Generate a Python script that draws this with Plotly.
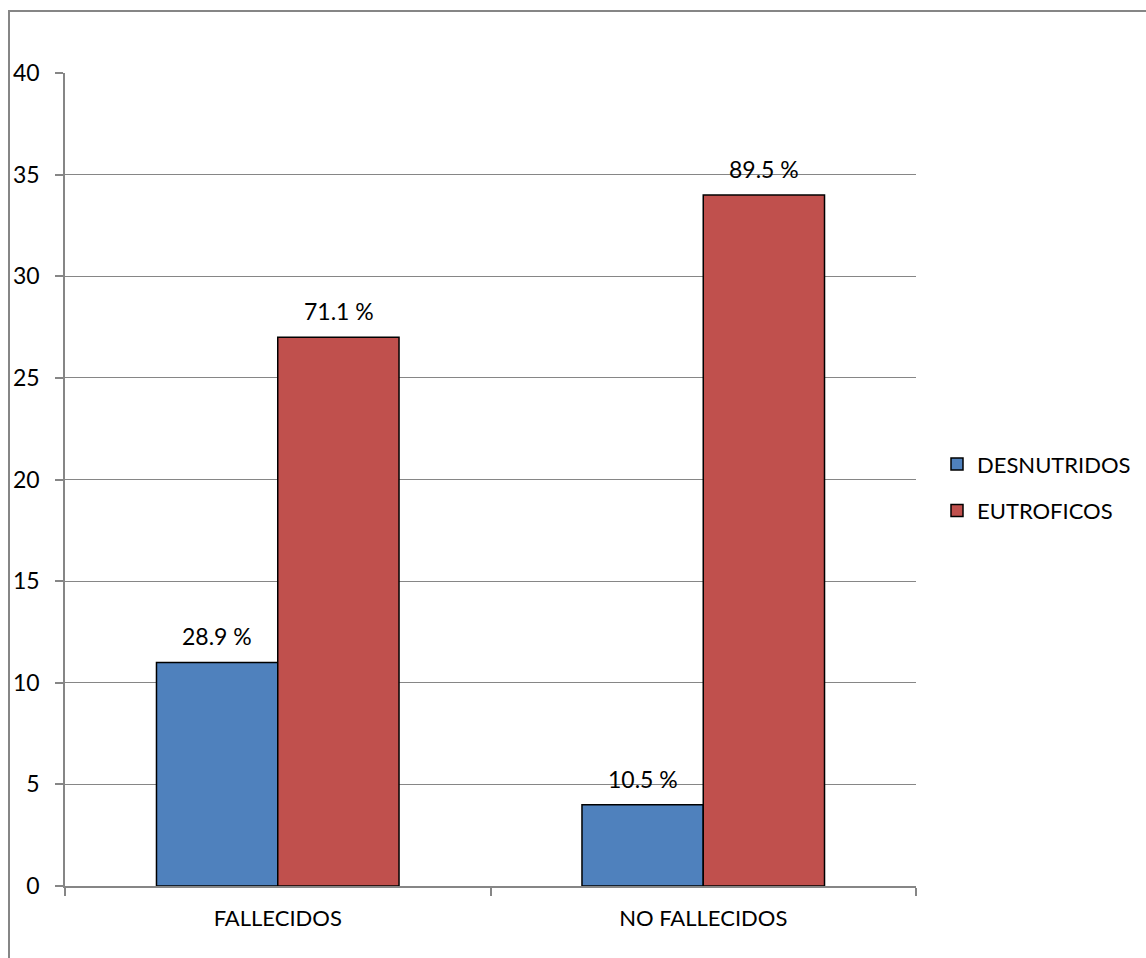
import plotly.graph_objects as go

categories = ["FALLECIDOS", "NO FALLECIDOS"]
desnutridos = [11, 4]
eutroficos = [27, 34]
desnutridos_labels = ["28.9 %", "10.5 %"]
eutroficos_labels = ["71.1 %", "89.5 %"]

FONT = "Lato"
GRAY = "#868686"

fig = go.Figure()
fig.add_trace(go.Bar(
    x=categories, y=desnutridos, name="DESNUTRIDOS",
    marker=dict(color="#4F81BD", line=dict(color="black", width=1.5)),
    legendgroup="a",
))
fig.add_trace(go.Bar(
    x=categories, y=eutroficos, name="EUTROFICOS",
    marker=dict(color="#C0504D", line=dict(color="black", width=1.5)),
    legendgroup="b",
))

annotations = []
for series, labels, shift in [(desnutridos, desnutridos_labels, -60.75),
                              (eutroficos, eutroficos_labels, 60.75)]:
    for cat, val, lab in zip(categories, series, labels):
        annotations.append(dict(
            x=cat, y=val, xref="x", yref="y", text=lab, showarrow=False,
            xshift=shift, yshift=26, yanchor="middle",
            font=dict(family=FONT, size=23, color="black"),
        ))

fig.update_layout(
    width=1146, height=958,
    margin=dict(l=65, r=230, t=73, b=72, autoexpand=False),
    paper_bgcolor="white", plot_bgcolor="white",
    barmode="group", bargap=0.43, bargroupgap=0,
    font=dict(family=FONT, size=22, color="black"),
    annotations=annotations,
    legend=dict(
        xref="container", x=937 / 1146, y=0.49, xanchor="left", yanchor="middle",
        font=dict(family=FONT, size=22, color="black"),
        traceorder="grouped", tracegroupgap=15,
        itemwidth=30,
    ),
    xaxis=dict(
        showline=True, linecolor=GRAY, linewidth=1.5,
        ticks="outside", tickson="boundaries", ticklen=8, tickcolor=GRAY,
        tickwidth=1.5, showgrid=False, ticklabelstandoff=12,
        tickfont=dict(family=FONT, size=22, color="black"),
        automargin=False,
    ),
    yaxis=dict(
        range=[0, 40], dtick=5, showline=True, linecolor=GRAY, linewidth=1.5,
        ticks="outside", ticklen=8, tickcolor=GRAY, tickwidth=1.5,
        showgrid=True, gridcolor=GRAY, gridwidth=1.2,
        zeroline=False, ticklabelstandoff=11,
        tickfont=dict(family=FONT, size=23, color="black"),
        automargin=False,
    ),
    shapes=[dict(
        type="rect", xref="paper", yref="paper",
        x0=(9 - 65) / 851, x1=(1160 - 65) / 851,
        y0=(886 - 975) / 813, y1=(886 - 11) / 813,
        line=dict(color=GRAY, width=2), fillcolor="rgba(0,0,0,0)", layer="below",
    )],
)

fig.write_html("out.html")
